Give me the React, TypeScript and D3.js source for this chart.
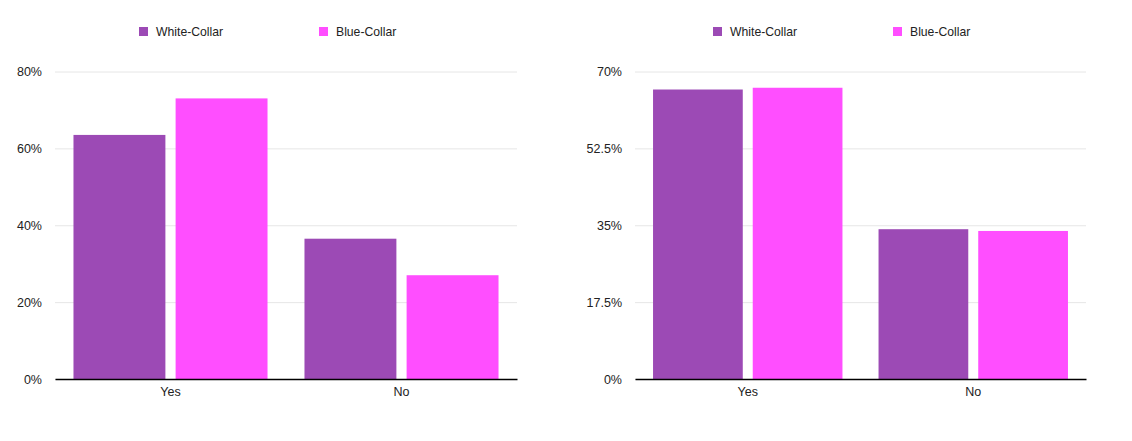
import React, { useEffect, useRef } from "react";
import { select, scaleBand, scaleLinear, axisLeft, axisBottom } from "d3";

// data
const categories = ["Yes", "No"];
const seriesNames = ["White-Collar", "Blue-Collar"];
const seriesColors = ["#9c4ab5", "#ff4eff"];

const leftWhite = [63.5, 36.5];
const leftBlue = [73, 27];
const leftTicks = [0, 20, 40, 60, 80];

const rightWhite = [65.9, 34.1];
const rightBlue = [66.3, 33.7];
const rightTicks = [0, 17.5, 35, 52.5, 70];

const WIDTH = 1132;
const HEIGHT = 441;
const FONT = "'Liberation Sans', Arial, Helvetica, sans-serif";

type Panel = {
  x0: number;
  x1: number;
  legendX: number;
  ticks: number[];
  values: number[][];
};

const panels: Panel[] = [
  { x0: 55, x1: 517, legendX: 139, ticks: leftTicks, values: [leftWhite, leftBlue] },
  { x0: 635, x1: 1086, legendX: 713, ticks: rightTicks, values: [rightWhite, rightBlue] },
];

const top = 71.5;
const bottom = 379;

export default function App() {
  const ref = useRef<SVGSVGElement>(null);

  useEffect(() => {
    const svg = select(ref.current);
    svg.selectAll("*").remove();

    panels.forEach(p => {
      const g = svg.append("g");
      const yScale = scaleLinear()
        .domain([0, p.ticks[p.ticks.length - 1]])
        .range([bottom, top]);

      const xScale = scaleBand()
        .domain(categories)
        .range([p.x0, p.x1])
        .paddingInner(0.16)
        .paddingOuter(0.08);

      const inner = scaleBand()
        .domain(seriesNames)
        .range([0, xScale.bandwidth()])
        .paddingInner(0.1);

      // y axis: grid lines + labels
      const yAxisG = g
        .append("g")
        .attr("transform", `translate(${p.x0},0)`)
        .call(
          axisLeft(yScale)
            .tickValues(p.ticks)
            .tickSize(-(p.x1 - p.x0))
            .tickPadding(13)
            .tickFormat(d => `${d}%`)
        );
      yAxisG.select(".domain").remove();
      yAxisG.selectAll(".tick line").attr("stroke", "#e6e6e6").attr("stroke-width", 1);
      yAxisG
        .selectAll(".tick text")
        .attr("fill", "#222")
        .style("font-family", FONT)
        .style("font-size", "12.5px");

      // bars
      seriesNames.forEach((s, si) => {
        g.append("g")
          .selectAll("rect")
          .data(p.values[si])
          .enter()
          .append("rect")
          .attr("x", (d, i) => (xScale(categories[i]) as number) + (inner(s) as number))
          .attr("y", d => yScale(d))
          .attr("width", inner.bandwidth())
          .attr("height", d => bottom - yScale(d))
          .attr("fill", seriesColors[si]);
      });

      // x axis
      const xAxisG = g
        .append("g")
        .attr("transform", `translate(0,${bottom})`)
        .call(axisBottom(xScale).tickSize(0).tickPadding(8));
      xAxisG.select(".domain").attr("stroke", "#000").attr("stroke-width", 1.5);
      xAxisG
        .selectAll(".tick text")
        .attr("fill", "#222")
        .style("font-family", FONT)
        .style("font-size", "12.5px");

      // legend
      seriesNames.forEach((s, si) => {
        const lx = p.legendX + si * 180;
        g.append("rect")
          .attr("x", lx)
          .attr("y", 27)
          .attr("width", 9)
          .attr("height", 9)
          .attr("fill", seriesColors[si]);
        g.append("text")
          .attr("x", lx + 17)
          .attr("y", 36)
          .attr("fill", "#222")
          .style("font-family", FONT)
          .style("font-size", "12.2px")
          .text(s);
      });
    });
  }, []);

  return (
    <div style={{ position: "absolute", left: 0, top: 0 }}>
      <svg ref={ref} width={WIDTH} height={HEIGHT} style={{ display: "block", background: "#fff" }} />
    </div>
  );
}
